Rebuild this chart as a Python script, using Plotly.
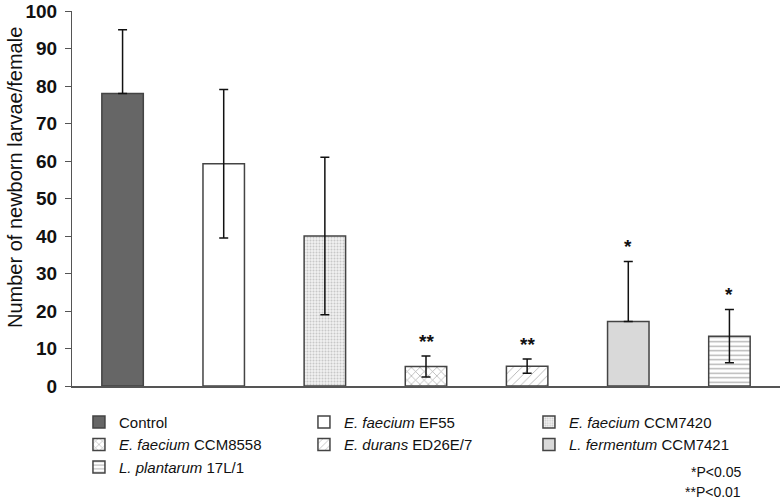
import plotly.graph_objects as go

# ---- data ----
groups = ["Control", "<i>E. faecium</i> EF55", "<i>E. faecium</i> CCM7420",
          "<i>E. faecium</i> CCM8558", "<i>E. durans</i> ED26E/7",
          "<i>L. fermentum</i> CCM7421", "<i>L. plantarum</i> 17L/1"]
means = [78, 59.3, 40, 5.2, 5.3, 17.2, 13.3]
err_plus = [17, 19.8, 21, 2.8, 1.9, 16, 7.1]
err_minus = [0, 19.8, 21, 2.8, 1.9, 0, 7.1]
signif = ["", "", "", "**", "**", "*", "*"]
y_ticks = [0, 10, 20, 30, 40, 50, 60, 70, 80, 90, 100]
y_title = "Number of newborn larvae/female"
p_notes = ["*P<0.05", "**P<0.01"]

# ---- styles ----
fills = ["#666666", "#ffffff", "#e6e6e6", "#ffffff", "#ffffff", "#d9d9d9", "#ffffff"]
patterns = [
    dict(shape=""),
    dict(shape=""),
    dict(shape=".", size=3, solidity=0.35, fgcolor="#a0a0a0", bgcolor="#f0f0f0"),
    dict(shape="x", size=6, solidity=0.22, fgcolor="#555555", bgcolor="#ffffff"),
    dict(shape="/", size=6, solidity=0.15, fgcolor="#666666", bgcolor="#ffffff"),
    dict(shape=""),
    dict(shape="-", size=4.5, solidity=0.3, fgcolor="#666666", bgcolor="#ffffff"),
]

FONT = "Liberation Sans, Arial, sans-serif"

fig = go.Figure()
for i, name in enumerate(groups):
    fig.add_trace(go.Bar(
        x=[i], y=[means[i]], name=name, width=0.41,
        marker=dict(color=fills[i], pattern=patterns[i],
                    line=dict(color="#444444", width=1.5)),
        error_y=dict(type="data", symmetric=False,
                     array=[err_plus[i]], arrayminus=[err_minus[i]],
                     color="#111111", thickness=1.5, width=4.5),
        showlegend=True,
    ))
    if signif[i]:
        fig.add_annotation(x=i, y=means[i] + err_plus[i], text="<b>" + signif[i] + "</b>",
                           showarrow=False, yanchor="middle", yshift=15,
                           font=dict(family=FONT, size=19, color="#111111"))

for note, yy in zip(p_notes, [-0.2285, -0.2827]):
    fig.add_annotation(xref="paper", yref="paper", x=0.948, y=yy, text=note,
                       showarrow=False, xanchor="right", yanchor="middle",
                       font=dict(family=FONT, size=14, color="#111111"))

# y-axis title (placed as rotated text to match its off-centre position)
fig.add_annotation(xref="paper", yref="paper", x=-0.0805, y=0.5547, text=y_title,
                   textangle=-90, showarrow=False, xanchor="center", yanchor="middle",
                   font=dict(family=FONT, size=20, color="#111111"))

fig.update_layout(
    width=781, height=502,
    margin=dict(l=72, r=1, t=11, b=116, autoexpand=False),
    paper_bgcolor="white", plot_bgcolor="white",
    barmode="overlay",
    font=dict(family=FONT, color="#111111"),
    legend=dict(orientation="h", xref="container", yref="container",
                x=0.1011, xanchor="left", y=0.1918, yanchor="top",
                entrywidth=180, entrywidthmode="pixels", itemwidth=30,
                font=dict(family=FONT, size=15, color="#111111"),
                tracegroupgap=0, traceorder="normal"),
    xaxis=dict(range=[-0.5, 6.5], showticklabels=False, ticks="", showgrid=False,
               zeroline=False, showline=True, linecolor="#555555", linewidth=1.5,
               fixedrange=True),
    yaxis=dict(range=[0, 100], tickvals=y_ticks, ticks="outside", ticklen=6,
               tickcolor="#555555", tickwidth=1, showgrid=False, zeroline=False,
               showline=True, linecolor="#555555", linewidth=1,
               ticklabelstandoff=4, ticklabeloverflow="allow",
               tickfont=dict(family=FONT, size=19, color="#111111", weight="bold")),
)

fig.write_html("out.html", config={"displayModeBar": False},
               post_script="document.body.style.margin='0';")
